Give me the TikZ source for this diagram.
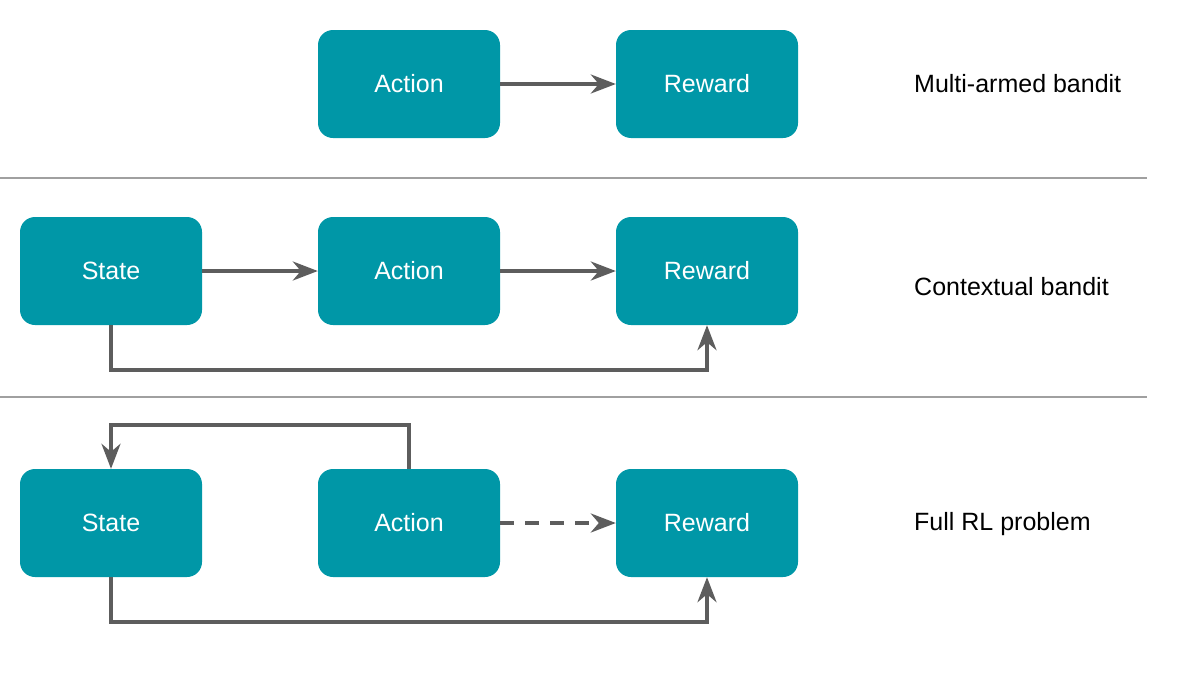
\documentclass[tikz,border=0pt]{standalone}
\usepackage{fontspec}
\setmainfont{Liberation Sans}
\usetikzlibrary{arrows.meta}
\usetikzlibrary{positioning}
\definecolor{teal}{RGB}{0,151,167}
\definecolor{linegray}{RGB}{93,93,93}
\definecolor{sepgray}{RGB}{160,160,160}

\begin{document}
\begin{tikzpicture}[x=1pt, y=-1pt,
		box/.style={rectangle, rounded corners=15pt, fill=teal, text=white,
			minimum width=182pt, minimum height=108pt, inner sep=0pt,
			font=\fontsize{25}{30}\selectfont},
		link/.style={draw=linegray, line width=3.6pt,
			-{Stealth[length=25pt, width=19pt, inset=8pt]}},
		caption/.style={anchor=west, inner sep=0pt, font=\fontsize{25}{30}\selectfont}]
		\useasboundingbox (0, 0) rectangle (1183, 672);
		% separators
		\draw[sepgray, line width=1.2pt] (0, 178) -- (1147, 178);
		\draw[sepgray, line width=1.2pt] (0, 397) -- (1147, 397);
		% multi-armed bandit
		\node[box] (ac1) at (409, 84) {Action};
		\node[box] (rw1) at (707, 84) {Reward};
		\node[caption] (cap1) at (914, 84) {Multi-armed bandit};
		\draw[link] (ac1) -- (rw1);
		% contextual bandit
		\node[box] (st2) at (111, 271) {State};
		\node[box] (ac2) at (409, 271) {Action};
		\node[box] (rw2) at (707, 271) {Reward};
		\node[caption] (cap2) at (914, 287) {Contextual bandit};
		\draw[link] (st2) -- (ac2);
		\draw[link] (ac2) -- (rw2);
		\draw[link] (st2.south) -- ++(0, 45) -| (rw2.south);
		% full RL problem
		\node[box] (st3) at (111, 523) {State};
		\node[box] (ac3) at (409, 523) {Action};
		\node[box] (rw3) at (707, 523) {Reward};
		\node[caption] (cap3) at (914, 524) {Full RL problem};
		\draw[link, dash pattern=on 14pt off 11pt] (ac3) -- (rw3);
		\draw[link] (ac3.north) -- ++(0, -44) -| (st3.north);
		\draw[link] (st3.south) -- ++(0, 45) -| (rw3.south);
	\end{tikzpicture}
\end{document}
